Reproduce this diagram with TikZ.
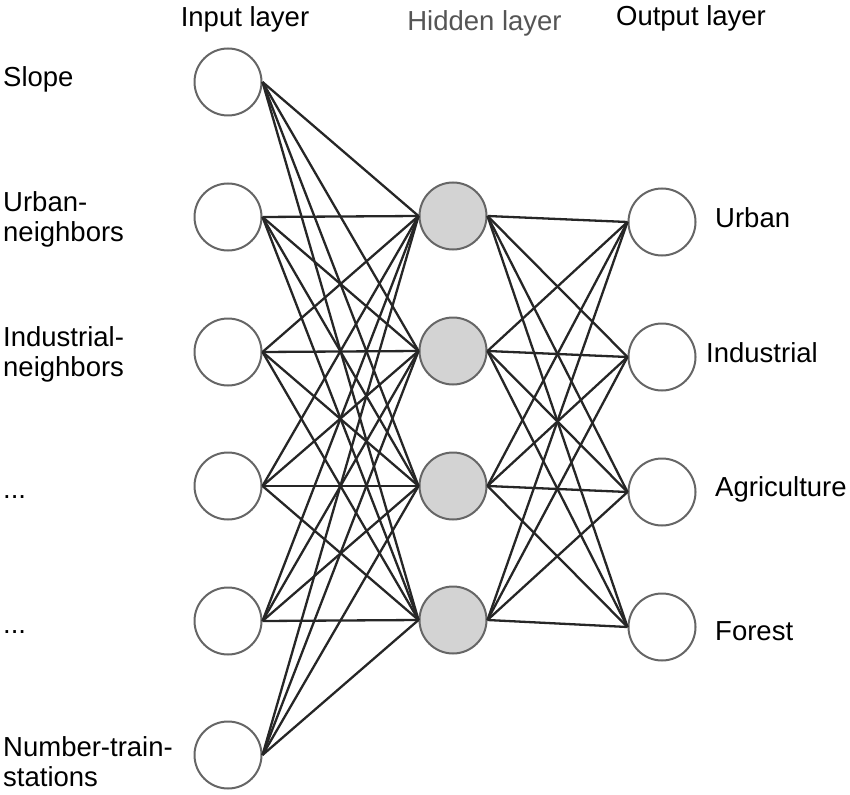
\documentclass[tikz,border=0pt]{standalone}
\usepackage{fontspec}
\setmainfont{Liberation Sans}
\begin{document}
\begin{tikzpicture}[x=1pt,y=-1pt,
  neuron/.style={circle,draw=circgray,line width=2pt,minimum size=67pt,inner sep=0pt,fill=white},
  hid/.style={neuron,fill=hidfill},
  conn/.style={draw=linegray,line width=2.3pt},
  lbl/.style={anchor=base west,align=left,inner sep=0pt,font=\fontsize{27.5}{30}\selectfont,text=black},
  ttl/.style={anchor=base,inner sep=0pt,font=\fontsize{27.5}{30}\selectfont}]
\definecolor{circgray}{HTML}{666666}
\definecolor{hidfill}{HTML}{D3D3D3}
\definecolor{linegray}{HTML}{262626}
\definecolor{ttlgray}{HTML}{555555}
\useasboundingbox (0,0) rectangle (850,794);
% titles
\node[ttl] (tin) at (245,27) {Input layer};
\node[ttl,text=ttlgray] (thid) at (484.5,31) {Hidden layer};
\node[ttl] (tout) at (691,26) {Output layer};
% neurons
\foreach \i/\y in {1/82,2/217,3/352,4/486,5/621,6/755}
  \node[neuron] (in\i) at (228,\y) {};
\foreach \i/\y in {1/216,2/351,3/486,4/620}
  \node[hid] (h\i) at (453,\y) {};
\foreach \i/\y in {1/222,2/357,3/492,4/627}
  \node[neuron] (o\i) at (662,\y) {};
% connections
\foreach \i in {1,...,6}
  \foreach \j in {1,...,4}
    \draw[conn] (in\i.east) -- (h\j.west);
\foreach \i in {1,...,4}
  \foreach \j in {1,...,4}
    \draw[conn] (h\i.east) -- (o\j.west);
% input labels (base = last line)
\node[lbl] (l1) at (3,87) {Slope};
\node[lbl] (l2) at (3,241) {Urban-\\neighbors};
\node[lbl] (l3) at (3,376) {Industrial-\\neighbors};
\node[lbl] (l4) at (3,498) {...};
\node[lbl] (l5) at (3,633) {...};
\node[lbl] (l6) at (3,786) {Number-train-\\stations};
% output labels
\node[lbl] (r1) at (715,228) {Urban};
\node[lbl] (r2) at (706,362) {Industrial};
\node[lbl] (r3) at (715,496) {Agriculture};
\node[lbl] (r4) at (715,640) {Forest};
\end{tikzpicture}
\end{document}
